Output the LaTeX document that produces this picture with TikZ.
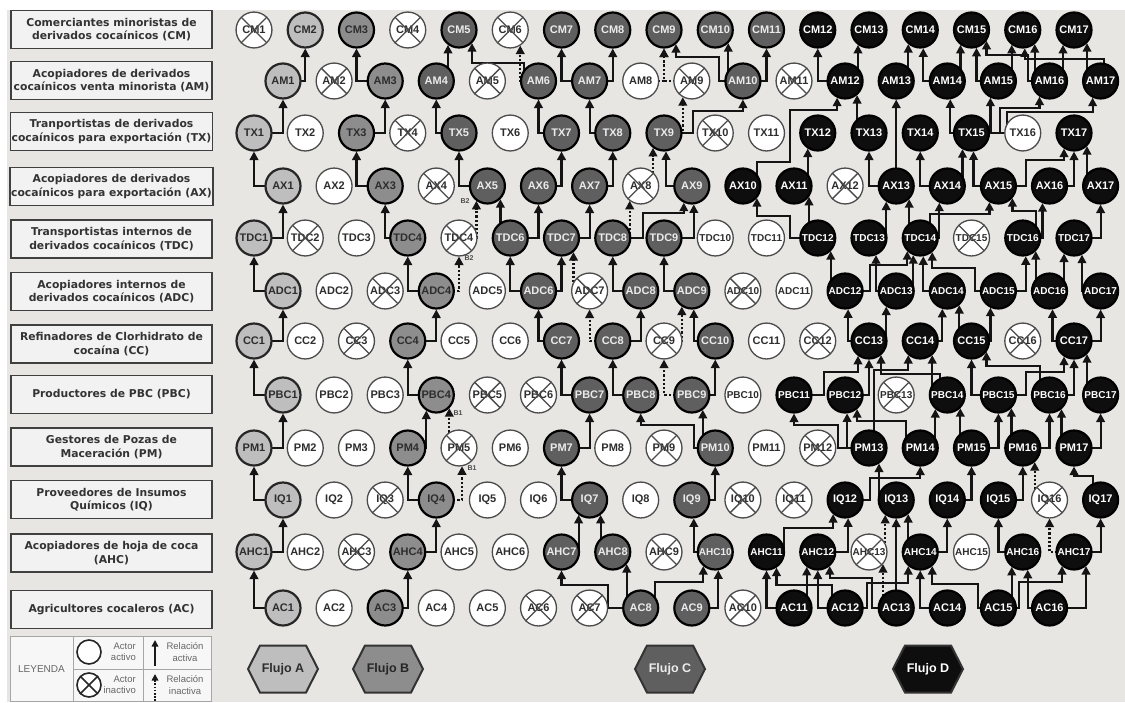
\documentclass[tikz,border=0pt]{standalone}
\usepackage{fontspec}
\setmainfont{Liberation Sans}
\newfontfamily\lblfont{DejaVu Sans}
\newfontfamily\nodefont{Liberation Sans}
\usetikzlibrary{arrows.meta,calc}
\pgfdeclarelayer{back}
\pgfdeclarelayer{edges}
\pgfsetlayers{back,edges,main}

\definecolor{bgc}{RGB}{232,230,227}
\definecolor{gA}{RGB}{190,190,190}
\definecolor{gB}{RGB}{141,141,141}
\definecolor{gC}{RGB}{95,95,95}
\definecolor{gD}{RGB}{14,14,14}
\definecolor{txd}{RGB}{45,45,45}
\definecolor{wb}{RGB}{75,75,75}

\tikzset{
 nbase/.style={circle,inner sep=0pt,minimum size=35pt,line width=2.2pt,draw=black},
 na/.style={nbase,fill=gA,draw=black!85,text=txd},
 nb/.style={nbase,fill=gB,text=txd},
 nc/.style={nbase,fill=gC,text=white!92!black},
 nd/.style={nbase,fill=gD,text=white},
 nw/.style={circle,inner sep=0pt,minimum size=35.9pt,line width=1.3pt,draw=wb,fill=white,text=txd},
 nx/.style={nw},
 xline/.style={draw=wb,line width=1.3pt,shorten >=0.8pt,shorten <=0.8pt},
 arr/.style={draw=black!92,line width=2.2pt,-{Triangle[length=8.5pt,width=8.5pt]}},
 inact/.style={dash pattern=on 2.2pt off 2pt},
 lbl/.style={draw=black!75,line width=1.5pt,fill=white!95!black,minimum width=201pt,minimum height=38pt,inner sep=1pt,align=center,text=black!80,font=\lblfont\bfseries\fontsize{10.8}{13.5}\selectfont},
 blab/.style={font=\nodefont\bfseries\fontsize{7}{8}\selectfont,text=black!70,inner sep=0pt},
 legtxt/.style={font=\nodefont\fontsize{9.5}{11.5}\selectfont,text=black!60,inner sep=0pt},
 hexd/.style={draw=black!80,line width=2pt},
 legarr/.style={draw=black!90,line width=1.6pt,-{Triangle[length=6.5pt,width=6.5pt]}},
}

% printed label that differs from the automatic one
\expandafter\def\csname LxTDC5\endcsname{TDC4}

% row of actors: #1 prefix, #2 y, #3 x0, #4 step, #5 font size for two digits, #6 types
\newcommand\mkrow[6]{%
  \foreach \t [count=\i] in {#6}{%
    \ifnum\i>9 \edef\fsz{#5}\else\edef\fsz{11}\fi
    \node[n\t,font=\nodefont\bfseries\fontsize{\fsz}{12}\selectfont] (#1\i) at ({#3+#4*(\i-1)},#2)
      {\ifcsname Lx#1\i\endcsname\csname Lx#1\i\endcsname\else#1\i\fi};
    \if x\t \draw[xline] (#1\i.45) -- (#1\i.225) (#1\i.135) -- (#1\i.315);\fi
  }}
% edge: from source centre, -| to the bottom of the target at x offset
\newcommand\Eg[4][]{\draw[arr,#1] (#2.center) -| ($(#3)+(#4,{sqrt(342.25-(#4)*(#4))})$);}
\newcommand\Ep[5][]{\draw[arr,#1] (#2.center) #3 ($(#4)+(#5,{sqrt(342.25-(#5)*(#5))})$);}
\newcommand\hexa[5]{%
  \filldraw[hexd,fill=#3] (#2-35,669) -- (#2-23,645.5) -- (#2+23,645.5) -- (#2+35,669) -- (#2+23,692.5) -- (#2-23,692.5) -- cycle;
  \node[text=#4,font=\nodefont\bfseries\fontsize{12.5}{14}\selectfont] (#1) at (#2,669) {#5};}

\begin{document}
\begin{tikzpicture}[x=1pt,y=-1pt]
\useasboundingbox (0,0) rectangle (1125,702);
\begin{pgfonlayer}{back}
\fill[white] (0,0) rectangle (1125,702);
\fill[bgc] (7,10) rectangle (1125,702);
\end{pgfonlayer}

% row labels
\node[lbl] (LCM)  at (111.5,29.5) {Comerciantes minoristas de\\derivados cocaínicos (CM)};
\node[lbl] (LAM)  at (111.5,80.5) {Acopiadores de derivados\\cocaínicos venta minorista (AM)};
\node[lbl] (LTX)  at (111.5,131.5) {Tranportistas de derivados\\cocaínicos para exportación (TX)};
\node[lbl] (LAX)  at (111.5,186.5) {Acopiadores de derivados\\cocaínicos para exportación (AX)};
\node[lbl] (LTDC) at (111.5,239) {Transportistas internos de\\derivados cocaínicos (TDC)};
\node[lbl] (LADC) at (111.5,291.5) {Acopiadores internos de\\derivados cocaínicos (ADC)};
\node[lbl] (LCC)  at (111.5,344) {Refinadores de Clorhidrato de\\cocaína (CC)};
\node[lbl] (LPBC) at (111.5,394.5) {Productores de PBC (PBC)};
\node[lbl] (LPM)  at (111.5,447) {Gestores de Pozas de\\Maceración (PM)};
\node[lbl] (LIQ)  at (111.5,499.5) {Proveedores de Insumos\\Químicos (IQ)};
\node[lbl] (LAHC) at (111.5,553) {Acopiadores de hoja de coca\\(AHC)};
\node[lbl] (LAC)  at (111.5,609.5) {Agricultores cocaleros (AC)};

% actors
\mkrow{CM}{30}{254}{51.25}{11}{x,a,b,x,c,x,c,c,c,c,c,d,d,d,d,d,d}
\mkrow{AM}{81}{283}{51.1}{11}{a,x,b,c,x,c,c,w,x,c,x,d,d,d,d,d,d}
\mkrow{TX}{133}{254}{51.25}{11}{a,w,b,x,c,w,c,c,c,x,w,d,d,d,d,w,d}
\mkrow{AX}{186}{283}{51.1}{11}{a,w,b,x,c,c,c,x,c,d,d,x,d,d,d,d,d}
\mkrow{TDC}{238}{254}{51.25}{10}{a,x,w,b,x,c,c,c,c,w,w,d,d,d,x,d,d}
\mkrow{ADC}{291}{283}{51.1}{10}{a,w,x,b,w,c,x,c,c,x,w,d,d,d,d,d,d}
\mkrow{CC}{341}{254}{51.25}{11}{a,w,x,b,w,w,c,c,x,c,w,x,d,d,d,x,d}
\mkrow{PBC}{395}{283}{51.1}{10}{a,w,w,b,x,x,c,c,c,w,d,d,x,d,d,d,d}
\mkrow{PM}{448}{254}{51.25}{11}{a,w,w,b,x,w,c,w,x,c,w,x,d,d,d,d,d}
\mkrow{IQ}{500}{283}{51.1}{11}{a,w,x,b,w,w,c,w,c,x,x,d,d,d,d,x,d}
\mkrow{AHC}{552}{254}{51.25}{10}{a,w,x,b,w,w,c,c,x,c,d,d,x,d,w,d,d}
\mkrow{AC}{608}{283}{51.1}{11}{a,w,b,w,w,x,x,c,c,x,d,d,d,d,d,d}

% B labels
\node[blab] (B2a) at (469,258) {B2};
\node[blab] (B2b) at (465,201) {B2};
\node[blab] (B1a) at (458,413) {B1};
\node[blab] (B1b) at (472,468) {B1};

% flows
\hexa{FA}{283}{gA}{txd}{Flujo A}
\hexa{FB}{388}{gB}{black!85}{Flujo B}
\hexa{FC}{670}{gC}{white!92!black}{Flujo C}
\hexa{FD}{928}{gD}{white}{Flujo D}

% legend
\filldraw[draw=black!35,line width=0.8pt,fill=white!97!black] (10,636) rectangle (211,701);
\draw[draw=black!35,line width=0.8pt] (73,636) -- (73,701) (143,636) -- (143,701) (73,669) -- (211,669);
\node[legtxt,font=\nodefont\fontsize{10}{12}\selectfont] (leg) at (41.5,669) {LEYENDA};
\node[circle,draw=black!85,line width=1.6pt,fill=white,minimum size=24pt,inner sep=0pt] (lc1) at (89,652) {};
\node[circle,draw=black!85,line width=1.6pt,fill=white,minimum size=24pt,inner sep=0pt] (lc2) at (89,685) {};
\draw[draw=black!85,line width=1.6pt,shorten >=0.8pt,shorten <=0.8pt] (lc2.45) -- (lc2.225) (lc2.135) -- (lc2.315);
\node[legtxt,align=right,anchor=east] (lt1) at (136,652) {Actor\\activo};
\node[legtxt,align=right,anchor=east] (lt2) at (136,685) {Actor\\inactivo};
\coordinate (la1s) at (155,666); \coordinate (la1e) at (155,640);
\coordinate (la2s) at (155,701); \coordinate (la2e) at (155,674);
\draw[legarr] (la1s) -- (la1e);
\draw[legarr,dash pattern=on 1.6pt off 1.6pt] (la2s) -- (la2e);
\node[legtxt,align=center] (lt3) at (185,652) {Relación\\activa};
\node[legtxt,align=center] (lt4) at (185,685) {Relación\\inactiva};

\begin{pgfonlayer}{edges}
% ---- Flujo A
\Eg{AC1}{AHC1}{0}
\Eg{AHC1}{IQ1}{0}
\Eg{IQ1}{PM1}{0}
\Eg{PM1}{PBC1}{0}
\Eg{PBC1}{CC1}{0}
\Eg{CC1}{ADC1}{0}
\Eg{ADC1}{TDC1}{0}
\Eg{TDC1}{AX1}{0}
\Eg{AX1}{TX1}{0}
\Eg{TX1}{AM1}{0}
\Eg{AM1}{CM2}{0}
% ---- Flujo B
\Eg{AC3}{AHC4}{0}
\Eg{AHC4}{IQ4}{0}
\Eg{IQ4}{PM4}{0}
\Eg{PM4}{PBC4}{-10}
\Eg{PBC4}{CC4}{0}
\Eg{CC4}{ADC4}{0}
\Eg{ADC4}{TDC4}{0}
\Eg{TDC4}{AX3}{0}
\Eg{AX3}{TX3}{0}
\Eg{TX3}{AM3}{0}
\Eg{AM3}{CM3}{0}
\Eg[inact]{ADC4}{TDC5}{0}
\Eg[inact]{TDC5}{AX5}{-11}
\Eg[inact]{IQ4}{PM5}{3}
\Eg[inact]{PM5}{PBC4}{13}
% ---- Flujo C
\Ep{AC8}{-| (608,585) -|}{AHC7}{0}
\Eg{AC8}{AHC8}{14}
\Ep{AC8}{-| (655,582) -|}{AHC10}{-12}
\Eg{AC9}{AHC10}{3}
\Eg{AHC7}{IQ7}{-11}
\Eg{AHC8}{IQ7}{11}
\Eg{AHC10}{IQ9}{2}
\Eg{IQ7}{PM7}{0}
\Eg{IQ9}{PM10}{0}
\Eg{PM7}{PBC7}{0}
\Eg{PM10}{PBC9}{11}
\Ep{PM10}{-| (694,425) -|}{PBC8}{0}
\Eg{PBC7}{CC7}{0}
\Eg{PBC8}{CC8}{0}
\Eg{PBC9}{CC10}{0}
\Eg[inact]{PBC9}{CC9}{0}
\Eg{CC7}{ADC6}{0}
\Eg[inact]{CC8}{ADC7}{0}
\Eg{CC8}{ADC8}{0}
\Eg{CC10}{ADC9}{2}
\Eg[inact]{CC9}{ADC9}{-10}
\Eg{ADC6}{TDC6}{0}
\Eg{ADC6}{TDC7}{0}
\Eg[inact]{ADC7}{TDC7}{12}
\Eg{ADC8}{TDC8}{0}
\Eg{ADC9}{TDC9}{0}
\Eg{TDC6}{AX5}{13}
\Eg{TDC6}{AX6}{0}
\Eg{TDC7}{AX7}{0}
\Eg[inact]{TDC8}{AX8}{-11}
\Ep{TDC8}{-| (643,213) -|}{AX9}{-8}
\Eg{TDC9}{AX9}{2}
\Eg{AX5}{TX5}{0}
\Eg{AX6}{TX7}{0}
\Eg{AX7}{TX8}{0}
\Eg{AX9}{TX9}{2}
\Eg[inact]{AX8}{TX9}{-11}
\Eg{TX5}{AM4}{0}
\Eg{TX7}{AM6}{0}
\Eg{TX8}{AM7}{0}
\Ep{TX9}{-| (693,111) -|}{AM10}{0}
\Eg[inact]{TX9}{AM9}{-9}
\Eg{AM4}{CM5}{-11}
\Ep{AM6}{-| (524,63) -|}{CM5}{13}
\Eg[inact]{AM6}{CM6}{10}
\Eg{AM7}{CM7}{0}
\Eg{AM7}{CM8}{0}
\Eg[inact]{AM9}{CM9}{0}
\Eg[inact]{AM8}{CM9}{0}
\Eg{AM10}{CM10}{13}
\Eg{AM10}{CM11}{0}
\Ep{AM10}{-| (719,57) -|}{CM9}{12}
% ---- Flujo D
\Eg{AC11}{AHC11}{0}
\Eg{AC11}{AHC12}{-11}
\Ep{AC12}{-| (832,585) -|}{AHC11}{10}
\Eg{AC12}{AHC12}{0}
\Ep{AC12}{-| (867,583) -|}{AHC14}{-12}
\Eg{AC13}{IQ13}{0}
\Eg[inact]{AC13}{AHC13}{14}
\Ep{AC13}{-| (872,578) -|}{AHC12}{12}
\Eg{AC14}{AHC14}{0}
\Ep{AC15}{-| (978,584) -|}{AHC14}{12}
\Eg{AC15}{AHC16}{-11}
\Eg{AC16}{AHC16}{5}
\Eg{AC16}{AHC17}{12}
\Ep{AC15}{-| (1019,582) -|}{AHC17}{-12}
\Ep{AHC11}{-| (784,528) -|}{IQ12}{-12}
\Eg{AHC12}{IQ12}{3}
\Eg[inact]{AHC13}{IQ13}{-11}
\Eg{AHC14}{IQ13}{12}
\Eg{AHC14}{IQ14}{0}
\Eg{AHC16}{IQ15}{0}
\Eg[inact]{AHC17}{IQ16}{0}
\Eg{AHC17}{IQ17}{0}
\Ep{IQ12}{-| (870,478) -|}{PM14}{0}
\Eg{IQ13}{PM13}{10}
\Eg{IQ14}{PM15}{0}
\Eg{IQ15}{PM16}{0}
\Eg[inact]{IQ16}{PM16}{12}
\Ep{IQ17}{-| (1093,476) -|}{PM17}{0}
\Ep{PM13}{-| (838,425) -|}{PBC11}{0}
\Eg{PM13}{PBC12}{2}
\Ep{PM14}{-| (906,421) -|}{PBC12}{12}
\Eg{PM14}{PBC14}{-12}
\Ep{PM13}{-| (874,370) -|}{CC14}{-12}
\Eg{PM15}{PBC14}{13}
\Eg{PM15}{PBC15}{0}
\Eg{PM16}{PBC15}{13}
\Eg{PM16}{PBC16}{0}
\Eg{PM17}{PBC16}{12}
\Eg{PM17}{PBC17}{0}
\Ep{PBC11}{-| (824,372) -|}{CC13}{-11}
\Eg{PBC12}{CC13}{0}
\Ep{PBC14}{-| (940,374) -|}{CC13}{12}
\Eg{PBC14}{CC14}{12}
\Eg{PBC15}{CC15}{0}
\Ep{PBC16}{-| (1040,366) -|}{CC15}{15}
\Ep{PBC15}{-| (1026,372) -|}{CC17}{-10}
\Eg{PBC16}{CC17}{0}
\Eg{PBC17}{CC17}{13}
\Eg{CC13}{ADC12}{3}
\Eg{CC13}{ADC13}{-10}
\Eg{CC14}{ADC14}{-5}
\Eg{CC15}{ADC14}{12}
\Eg{CC15}{ADC15}{-8}
\Eg{CC17}{ADC16}{3}
\Eg{CC17}{ADC17}{0}
\Eg{ADC12}{TDC12}{13}
\Ep{ADC12}{-| (870,265) -|}{TDC14}{-13}
\Eg{ADC13}{TDC13}{7}
\Eg{ADC13}{TDC14}{-7}
\Eg{ADC14}{TDC14}{3}
\Ep{ADC15}{-| (975,268) -|}{TDC14}{12}
\Eg{ADC15}{TDC16}{3}
\Eg{ADC16}{TDC16}{13}
\Eg{ADC16}{TDC17}{-10}
\Eg{ADC17}{TDC17}{8}
\Ep{TDC12}{-| (790,216) -|}{AX10}{14}
\Eg{TDC12}{AX11}{15}
\Eg{TDC13}{AX13}{-10}
\Eg{TDC14}{AX13}{13}
\Eg{TDC14}{AX14}{-8}
\Ep{TDC14}{-| (930,214) -|}{AX15}{-9}
\Ep{TDC16}{-| (1036,211) -|}{AX15}{14}
\Eg{TDC16}{AX16}{-7}
\Eg{TDC17}{AX17}{0}
\Ep{AX10}{-| (757,162) -| (790,110) -|}{AM12}{-8}
\Eg{AX11}{TX12}{-10}
\Eg{AX13}{TX13}{0}
\Eg{AX13}{AM13}{0}
\Eg{AX14}{TX14}{0}
\Eg{AX14}{TX15}{-9}
\Eg{AX15}{TX15}{2}
\Ep{AX15}{-| (1026,160) -|}{TX17}{-10}
\Eg{AX16}{TX17}{0}
\Eg{AX17}{TX17}{13}
\Eg{TX13}{AM12}{12}
\Eg{TX15}{AM14}{3}
\Eg{TX15}{AM15}{-8}
\Ep{TX15}{-| (1000,108) -|}{AM16}{-10}
\Ep{TX15}{-| (1007,112) -|}{AM17}{-8}
\Eg{AM12}{CM12}{0}
\Eg{AM12}{CM13}{-11}
\Eg{AM13}{CM14}{-12}
\Eg{AM14}{CM14}{3}
\Eg{AM14}{CM15}{-11}
\Eg{AM15}{CM15}{5}
\Eg{AM15}{CM16}{-11}
\Ep{AM16}{-| (1028,55) -|}{CM15}{15}
\Eg{AM16}{CM16}{12}
\Eg{AM16}{CM17}{-11}
\Eg{AM17}{CM17}{13}
\Ep{AM17}{-| (1104,59) -|}{CM16}{2}
\end{pgfonlayer}
\end{tikzpicture}
\end{document}
